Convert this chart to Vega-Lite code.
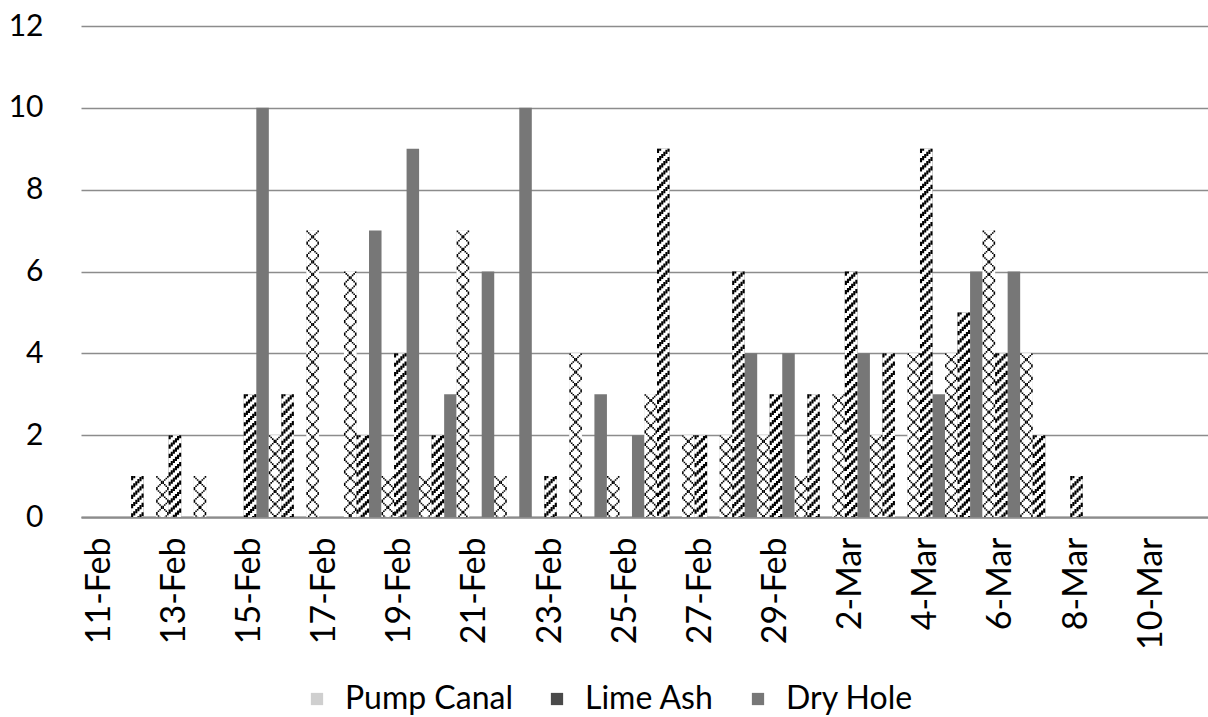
{
  "$schema": "https://vega.github.io/schema/vega-lite/v6.json",
  "width": 1127,
  "height": 491,
  "autosize": {"type": "none"},
  "padding": {"left": 81, "top": 26, "right": 0, "bottom": 200},
  "background": "white",
  "config": {
    "view": {"stroke": null},
    "font": "Lato",
    "axis": {"labelColor": "black", "labelFont": "Lato"},
    "legend": {"labelColor": "black", "labelFont": "Lato"}
  },
  "data": {
    "values": [
      {"date": "11-Feb", "series": "Pump Canal", "value": 0}, {"date": "11-Feb", "series": "Lime Ash", "value": 0}, {"date": "11-Feb", "series": "Dry Hole", "value": 0},
      {"date": "12-Feb", "series": "Pump Canal", "value": 0}, {"date": "12-Feb", "series": "Lime Ash", "value": 1}, {"date": "12-Feb", "series": "Dry Hole", "value": 0},
      {"date": "13-Feb", "series": "Pump Canal", "value": 1}, {"date": "13-Feb", "series": "Lime Ash", "value": 2}, {"date": "13-Feb", "series": "Dry Hole", "value": 0},
      {"date": "14-Feb", "series": "Pump Canal", "value": 1}, {"date": "14-Feb", "series": "Lime Ash", "value": 0}, {"date": "14-Feb", "series": "Dry Hole", "value": 0},
      {"date": "15-Feb", "series": "Pump Canal", "value": 0}, {"date": "15-Feb", "series": "Lime Ash", "value": 3}, {"date": "15-Feb", "series": "Dry Hole", "value": 10},
      {"date": "16-Feb", "series": "Pump Canal", "value": 2}, {"date": "16-Feb", "series": "Lime Ash", "value": 3}, {"date": "16-Feb", "series": "Dry Hole", "value": 0},
      {"date": "17-Feb", "series": "Pump Canal", "value": 7}, {"date": "17-Feb", "series": "Lime Ash", "value": 0}, {"date": "17-Feb", "series": "Dry Hole", "value": 0},
      {"date": "18-Feb", "series": "Pump Canal", "value": 6}, {"date": "18-Feb", "series": "Lime Ash", "value": 2}, {"date": "18-Feb", "series": "Dry Hole", "value": 7},
      {"date": "19-Feb", "series": "Pump Canal", "value": 1}, {"date": "19-Feb", "series": "Lime Ash", "value": 4}, {"date": "19-Feb", "series": "Dry Hole", "value": 9},
      {"date": "20-Feb", "series": "Pump Canal", "value": 1}, {"date": "20-Feb", "series": "Lime Ash", "value": 2}, {"date": "20-Feb", "series": "Dry Hole", "value": 3},
      {"date": "21-Feb", "series": "Pump Canal", "value": 7}, {"date": "21-Feb", "series": "Lime Ash", "value": 0}, {"date": "21-Feb", "series": "Dry Hole", "value": 6},
      {"date": "22-Feb", "series": "Pump Canal", "value": 1}, {"date": "22-Feb", "series": "Lime Ash", "value": 0}, {"date": "22-Feb", "series": "Dry Hole", "value": 10},
      {"date": "23-Feb", "series": "Pump Canal", "value": 0}, {"date": "23-Feb", "series": "Lime Ash", "value": 1}, {"date": "23-Feb", "series": "Dry Hole", "value": 0},
      {"date": "24-Feb", "series": "Pump Canal", "value": 4}, {"date": "24-Feb", "series": "Lime Ash", "value": 0}, {"date": "24-Feb", "series": "Dry Hole", "value": 3},
      {"date": "25-Feb", "series": "Pump Canal", "value": 1}, {"date": "25-Feb", "series": "Lime Ash", "value": 0}, {"date": "25-Feb", "series": "Dry Hole", "value": 2},
      {"date": "26-Feb", "series": "Pump Canal", "value": 3}, {"date": "26-Feb", "series": "Lime Ash", "value": 9}, {"date": "26-Feb", "series": "Dry Hole", "value": 0},
      {"date": "27-Feb", "series": "Pump Canal", "value": 2}, {"date": "27-Feb", "series": "Lime Ash", "value": 2}, {"date": "27-Feb", "series": "Dry Hole", "value": 0},
      {"date": "28-Feb", "series": "Pump Canal", "value": 2}, {"date": "28-Feb", "series": "Lime Ash", "value": 6}, {"date": "28-Feb", "series": "Dry Hole", "value": 4},
      {"date": "29-Feb", "series": "Pump Canal", "value": 2}, {"date": "29-Feb", "series": "Lime Ash", "value": 3}, {"date": "29-Feb", "series": "Dry Hole", "value": 4},
      {"date": "1-Mar", "series": "Pump Canal", "value": 1}, {"date": "1-Mar", "series": "Lime Ash", "value": 3}, {"date": "1-Mar", "series": "Dry Hole", "value": 0},
      {"date": "2-Mar", "series": "Pump Canal", "value": 3}, {"date": "2-Mar", "series": "Lime Ash", "value": 6}, {"date": "2-Mar", "series": "Dry Hole", "value": 4},
      {"date": "3-Mar", "series": "Pump Canal", "value": 2}, {"date": "3-Mar", "series": "Lime Ash", "value": 4}, {"date": "3-Mar", "series": "Dry Hole", "value": 0},
      {"date": "4-Mar", "series": "Pump Canal", "value": 4}, {"date": "4-Mar", "series": "Lime Ash", "value": 9}, {"date": "4-Mar", "series": "Dry Hole", "value": 3},
      {"date": "5-Mar", "series": "Pump Canal", "value": 4}, {"date": "5-Mar", "series": "Lime Ash", "value": 5}, {"date": "5-Mar", "series": "Dry Hole", "value": 6},
      {"date": "6-Mar", "series": "Pump Canal", "value": 7}, {"date": "6-Mar", "series": "Lime Ash", "value": 4}, {"date": "6-Mar", "series": "Dry Hole", "value": 6},
      {"date": "7-Mar", "series": "Pump Canal", "value": 4}, {"date": "7-Mar", "series": "Lime Ash", "value": 2}, {"date": "7-Mar", "series": "Dry Hole", "value": 0},
      {"date": "8-Mar", "series": "Pump Canal", "value": 0}, {"date": "8-Mar", "series": "Lime Ash", "value": 1}, {"date": "8-Mar", "series": "Dry Hole", "value": 0},
      {"date": "9-Mar", "series": "Pump Canal", "value": 0}, {"date": "9-Mar", "series": "Lime Ash", "value": 0}, {"date": "9-Mar", "series": "Dry Hole", "value": 0},
      {"date": "10-Mar", "series": "Pump Canal", "value": 0}, {"date": "10-Mar", "series": "Lime Ash", "value": 0}, {"date": "10-Mar", "series": "Dry Hole", "value": 0},
      {"date": "11-Mar", "series": "Pump Canal", "value": 0}, {"date": "11-Mar", "series": "Lime Ash", "value": 0}, {"date": "11-Mar", "series": "Dry Hole", "value": 0}
    ]
  },
  "encoding": {
    "y": {
      "field": "value",
      "type": "quantitative",
      "stack": null,
      "scale": {"domain": [0, 12], "nice": false},
      "axis": {
        "title": null,
        "values": [0, 2, 4, 6, 8, 10, 12],
        "grid": true,
        "gridColor": "#8c8c8c",
        "gridWidth": 1.3,
        "domain": false,
        "ticks": false,
        "labelFontSize": 30,
        "labelPadding": 38
      }
    }
  },
  "layer": [
    {
      "mark": {"type": "bar"},
      "encoding": {
        "x": {
          "field": "date",
          "type": "nominal",
          "scale": {
            "domain": ["11-Feb", "12-Feb", "13-Feb", "14-Feb", "15-Feb", "16-Feb", "17-Feb", "18-Feb", "19-Feb", "20-Feb", "21-Feb", "22-Feb", "23-Feb", "24-Feb", "25-Feb", "26-Feb", "27-Feb", "28-Feb", "29-Feb", "1-Mar", "2-Mar", "3-Mar", "4-Mar", "5-Mar", "6-Mar", "7-Mar", "8-Mar", "9-Mar", "10-Mar", "11-Mar"],
            "paddingInner": 0,
            "paddingOuter": 0
          },
          "axis": {
            "title": null,
            "values": ["11-Feb", "13-Feb", "15-Feb", "17-Feb", "19-Feb", "21-Feb", "23-Feb", "25-Feb", "27-Feb", "29-Feb", "2-Mar", "4-Mar", "6-Mar", "8-Mar", "10-Mar"],
            "labelAngle": -90,
            "labelFontSize": 34,
            "labelPadding": 20,
            "ticks": false,
            "grid": false,
            "domainColor": "#8c8c8c",
            "domainWidth": 2.25
          }
        },
        "xOffset": {
          "field": "series",
          "type": "nominal",
          "scale": {"domain": ["Pump Canal", "Lime Ash", "Dry Hole"], "paddingInner": 0, "paddingOuter": 0}
        },
        "color": {
          "field": "series",
          "type": "nominal",
          "scale": {"domain": ["Pump Canal", "Lime Ash", "Dry Hole"], "range": ["#cfcfcf", "#4a4a4a", "#777777"]},
          "legend": {
            "title": null,
            "orient": "none",
            "legendX": 220,
            "legendY": 657,
            "direction": "horizontal",
            "labelFontSize": 32,
            "labelLimit": 400,
            "symbolType": "square",
            "symbolSize": 150,
            "symbolStrokeWidth": 0,
            "labelOffset": 12,
            "columnPadding": 28
          }
        }
      }
    },
    {
      "transform": [{"filter": "datum.series !== 'Dry Hole'"}],
      "mark": {"type": "bar", "fill": "white"},
      "encoding": {
        "x": {"field": "date", "type": "nominal", "scale": {"domain": ["11-Feb", "12-Feb", "13-Feb", "14-Feb", "15-Feb", "16-Feb", "17-Feb", "18-Feb", "19-Feb", "20-Feb", "21-Feb", "22-Feb", "23-Feb", "24-Feb", "25-Feb", "26-Feb", "27-Feb", "28-Feb", "29-Feb", "1-Mar", "2-Mar", "3-Mar", "4-Mar", "5-Mar", "6-Mar", "7-Mar", "8-Mar", "9-Mar", "10-Mar", "11-Mar"], "paddingInner": 0, "paddingOuter": 0}},
        "xOffset": {"field": "series", "type": "nominal", "scale": {"domain": ["Pump Canal", "Lime Ash", "Dry Hole"], "paddingInner": 0, "paddingOuter": 0}}
      }
    },
    {
      "transform": [{"filter": "datum.series === 'Lime Ash' && datum.value > 0"}],
      "mark": {"type": "rule", "color": "black", "strokeWidth": 2.087, "strokeDash": [4.2, 5.1], "strokeDashOffset": 0},
      "encoding": {
        "x": {"field": "date", "type": "nominal", "bandPosition": 0.361111, "scale": {"domain": ["11-Feb", "12-Feb", "13-Feb", "14-Feb", "15-Feb", "16-Feb", "17-Feb", "18-Feb", "19-Feb", "20-Feb", "21-Feb", "22-Feb", "23-Feb", "24-Feb", "25-Feb", "26-Feb", "27-Feb", "28-Feb", "29-Feb", "1-Mar", "2-Mar", "3-Mar", "4-Mar", "5-Mar", "6-Mar", "7-Mar", "8-Mar", "9-Mar", "10-Mar", "11-Mar"], "paddingInner": 0, "paddingOuter": 0}},
        "y2": {"datum": 0}
      }
    },
    {
      "transform": [{"filter": "datum.series === 'Lime Ash' && datum.value > 0"}],
      "mark": {"type": "rule", "color": "black", "strokeWidth": 2.087, "strokeDash": [4.2, 5.1], "strokeDashOffset": 2.087},
      "encoding": {
        "x": {"field": "date", "type": "nominal", "bandPosition": 0.416667, "scale": {"domain": ["11-Feb", "12-Feb", "13-Feb", "14-Feb", "15-Feb", "16-Feb", "17-Feb", "18-Feb", "19-Feb", "20-Feb", "21-Feb", "22-Feb", "23-Feb", "24-Feb", "25-Feb", "26-Feb", "27-Feb", "28-Feb", "29-Feb", "1-Mar", "2-Mar", "3-Mar", "4-Mar", "5-Mar", "6-Mar", "7-Mar", "8-Mar", "9-Mar", "10-Mar", "11-Mar"], "paddingInner": 0, "paddingOuter": 0}},
        "y2": {"datum": 0}
      }
    },
    {
      "transform": [{"filter": "datum.series === 'Lime Ash' && datum.value > 0"}],
      "mark": {"type": "rule", "color": "black", "strokeWidth": 2.087, "strokeDash": [4.2, 5.1], "strokeDashOffset": 4.174},
      "encoding": {
        "x": {"field": "date", "type": "nominal", "bandPosition": 0.472222, "scale": {"domain": ["11-Feb", "12-Feb", "13-Feb", "14-Feb", "15-Feb", "16-Feb", "17-Feb", "18-Feb", "19-Feb", "20-Feb", "21-Feb", "22-Feb", "23-Feb", "24-Feb", "25-Feb", "26-Feb", "27-Feb", "28-Feb", "29-Feb", "1-Mar", "2-Mar", "3-Mar", "4-Mar", "5-Mar", "6-Mar", "7-Mar", "8-Mar", "9-Mar", "10-Mar", "11-Mar"], "paddingInner": 0, "paddingOuter": 0}},
        "y2": {"datum": 0}
      }
    },
    {
      "transform": [{"filter": "datum.series === 'Lime Ash' && datum.value > 0"}],
      "mark": {"type": "rule", "color": "black", "strokeWidth": 2.087, "strokeDash": [4.2, 5.1], "strokeDashOffset": 6.261},
      "encoding": {
        "x": {"field": "date", "type": "nominal", "bandPosition": 0.527778, "scale": {"domain": ["11-Feb", "12-Feb", "13-Feb", "14-Feb", "15-Feb", "16-Feb", "17-Feb", "18-Feb", "19-Feb", "20-Feb", "21-Feb", "22-Feb", "23-Feb", "24-Feb", "25-Feb", "26-Feb", "27-Feb", "28-Feb", "29-Feb", "1-Mar", "2-Mar", "3-Mar", "4-Mar", "5-Mar", "6-Mar", "7-Mar", "8-Mar", "9-Mar", "10-Mar", "11-Mar"], "paddingInner": 0, "paddingOuter": 0}},
        "y2": {"datum": 0}
      }
    },
    {
      "transform": [{"filter": "datum.series === 'Lime Ash' && datum.value > 0"}],
      "mark": {"type": "rule", "color": "black", "strokeWidth": 2.087, "strokeDash": [4.2, 5.1], "strokeDashOffset": 8.348},
      "encoding": {
        "x": {"field": "date", "type": "nominal", "bandPosition": 0.583333, "scale": {"domain": ["11-Feb", "12-Feb", "13-Feb", "14-Feb", "15-Feb", "16-Feb", "17-Feb", "18-Feb", "19-Feb", "20-Feb", "21-Feb", "22-Feb", "23-Feb", "24-Feb", "25-Feb", "26-Feb", "27-Feb", "28-Feb", "29-Feb", "1-Mar", "2-Mar", "3-Mar", "4-Mar", "5-Mar", "6-Mar", "7-Mar", "8-Mar", "9-Mar", "10-Mar", "11-Mar"], "paddingInner": 0, "paddingOuter": 0}},
        "y2": {"datum": 0}
      }
    },
    {
      "transform": [{"filter": "datum.series === 'Lime Ash' && datum.value > 0"}],
      "mark": {"type": "rule", "color": "black", "strokeWidth": 2.087, "strokeDash": [4.2, 5.1], "strokeDashOffset": 1.135},
      "encoding": {
        "x": {"field": "date", "type": "nominal", "bandPosition": 0.638889, "scale": {"domain": ["11-Feb", "12-Feb", "13-Feb", "14-Feb", "15-Feb", "16-Feb", "17-Feb", "18-Feb", "19-Feb", "20-Feb", "21-Feb", "22-Feb", "23-Feb", "24-Feb", "25-Feb", "26-Feb", "27-Feb", "28-Feb", "29-Feb", "1-Mar", "2-Mar", "3-Mar", "4-Mar", "5-Mar", "6-Mar", "7-Mar", "8-Mar", "9-Mar", "10-Mar", "11-Mar"], "paddingInner": 0, "paddingOuter": 0}},
        "y2": {"datum": 0}
      }
    },
    {
      "transform": [{"filter": "datum.series === 'Pump Canal' && datum.value > 0"}],
      "mark": {"type": "rule", "color": "black", "strokeWidth": 1.565, "strokeDash": [3.165, 9.355], "strokeDashOffset": 1.582},
      "encoding": {
        "x": {"field": "date", "type": "nominal", "bandPosition": 0.020833, "scale": {"domain": ["11-Feb", "12-Feb", "13-Feb", "14-Feb", "15-Feb", "16-Feb", "17-Feb", "18-Feb", "19-Feb", "20-Feb", "21-Feb", "22-Feb", "23-Feb", "24-Feb", "25-Feb", "26-Feb", "27-Feb", "28-Feb", "29-Feb", "1-Mar", "2-Mar", "3-Mar", "4-Mar", "5-Mar", "6-Mar", "7-Mar", "8-Mar", "9-Mar", "10-Mar", "11-Mar"], "paddingInner": 0, "paddingOuter": 0}},
        "y2": {"datum": 0}
      }
    },
    {
      "transform": [{"filter": "datum.series === 'Pump Canal' && datum.value > 0"}],
      "mark": {"type": "rule", "color": "black", "strokeWidth": 1.565, "strokeDash": [1.6, 6.225, 1.6, 3.095], "strokeDashOffset": 10.972},
      "encoding": {
        "x": {"field": "date", "type": "nominal", "bandPosition": 0.0625, "scale": {"domain": ["11-Feb", "12-Feb", "13-Feb", "14-Feb", "15-Feb", "16-Feb", "17-Feb", "18-Feb", "19-Feb", "20-Feb", "21-Feb", "22-Feb", "23-Feb", "24-Feb", "25-Feb", "26-Feb", "27-Feb", "28-Feb", "29-Feb", "1-Mar", "2-Mar", "3-Mar", "4-Mar", "5-Mar", "6-Mar", "7-Mar", "8-Mar", "9-Mar", "10-Mar", "11-Mar"], "paddingInner": 0, "paddingOuter": 0}},
        "y2": {"datum": 0}
      }
    },
    {
      "transform": [{"filter": "datum.series === 'Pump Canal' && datum.value > 0"}],
      "mark": {"type": "rule", "color": "black", "strokeWidth": 1.565, "strokeDash": [1.6, 3.095, 1.6, 6.225], "strokeDashOffset": 9.407},
      "encoding": {
        "x": {"field": "date", "type": "nominal", "bandPosition": 0.104167, "scale": {"domain": ["11-Feb", "12-Feb", "13-Feb", "14-Feb", "15-Feb", "16-Feb", "17-Feb", "18-Feb", "19-Feb", "20-Feb", "21-Feb", "22-Feb", "23-Feb", "24-Feb", "25-Feb", "26-Feb", "27-Feb", "28-Feb", "29-Feb", "1-Mar", "2-Mar", "3-Mar", "4-Mar", "5-Mar", "6-Mar", "7-Mar", "8-Mar", "9-Mar", "10-Mar", "11-Mar"], "paddingInner": 0, "paddingOuter": 0}},
        "y2": {"datum": 0}
      }
    },
    {
      "transform": [{"filter": "datum.series === 'Pump Canal' && datum.value > 0"}],
      "mark": {"type": "rule", "color": "black", "strokeWidth": 1.565, "strokeDash": [3.165, 9.355], "strokeDashOffset": 7.842},
      "encoding": {
        "x": {"field": "date", "type": "nominal", "bandPosition": 0.145833, "scale": {"domain": ["11-Feb", "12-Feb", "13-Feb", "14-Feb", "15-Feb", "16-Feb", "17-Feb", "18-Feb", "19-Feb", "20-Feb", "21-Feb", "22-Feb", "23-Feb", "24-Feb", "25-Feb", "26-Feb", "27-Feb", "28-Feb", "29-Feb", "1-Mar", "2-Mar", "3-Mar", "4-Mar", "5-Mar", "6-Mar", "7-Mar", "8-Mar", "9-Mar", "10-Mar", "11-Mar"], "paddingInner": 0, "paddingOuter": 0}},
        "y2": {"datum": 0}
      }
    },
    {
      "transform": [{"filter": "datum.series === 'Pump Canal' && datum.value > 0"}],
      "mark": {"type": "rule", "color": "black", "strokeWidth": 1.565, "strokeDash": [3.165, 9.355], "strokeDashOffset": 7.842},
      "encoding": {
        "x": {"field": "date", "type": "nominal", "bandPosition": 0.1875, "scale": {"domain": ["11-Feb", "12-Feb", "13-Feb", "14-Feb", "15-Feb", "16-Feb", "17-Feb", "18-Feb", "19-Feb", "20-Feb", "21-Feb", "22-Feb", "23-Feb", "24-Feb", "25-Feb", "26-Feb", "27-Feb", "28-Feb", "29-Feb", "1-Mar", "2-Mar", "3-Mar", "4-Mar", "5-Mar", "6-Mar", "7-Mar", "8-Mar", "9-Mar", "10-Mar", "11-Mar"], "paddingInner": 0, "paddingOuter": 0}},
        "y2": {"datum": 0}
      }
    },
    {
      "transform": [{"filter": "datum.series === 'Pump Canal' && datum.value > 0"}],
      "mark": {"type": "rule", "color": "black", "strokeWidth": 1.565, "strokeDash": [1.6, 3.095, 1.6, 6.225], "strokeDashOffset": 9.407},
      "encoding": {
        "x": {"field": "date", "type": "nominal", "bandPosition": 0.229167, "scale": {"domain": ["11-Feb", "12-Feb", "13-Feb", "14-Feb", "15-Feb", "16-Feb", "17-Feb", "18-Feb", "19-Feb", "20-Feb", "21-Feb", "22-Feb", "23-Feb", "24-Feb", "25-Feb", "26-Feb", "27-Feb", "28-Feb", "29-Feb", "1-Mar", "2-Mar", "3-Mar", "4-Mar", "5-Mar", "6-Mar", "7-Mar", "8-Mar", "9-Mar", "10-Mar", "11-Mar"], "paddingInner": 0, "paddingOuter": 0}},
        "y2": {"datum": 0}
      }
    },
    {
      "transform": [{"filter": "datum.series === 'Pump Canal' && datum.value > 0"}],
      "mark": {"type": "rule", "color": "black", "strokeWidth": 1.565, "strokeDash": [1.6, 6.225, 1.6, 3.095], "strokeDashOffset": 10.972},
      "encoding": {
        "x": {"field": "date", "type": "nominal", "bandPosition": 0.270833, "scale": {"domain": ["11-Feb", "12-Feb", "13-Feb", "14-Feb", "15-Feb", "16-Feb", "17-Feb", "18-Feb", "19-Feb", "20-Feb", "21-Feb", "22-Feb", "23-Feb", "24-Feb", "25-Feb", "26-Feb", "27-Feb", "28-Feb", "29-Feb", "1-Mar", "2-Mar", "3-Mar", "4-Mar", "5-Mar", "6-Mar", "7-Mar", "8-Mar", "9-Mar", "10-Mar", "11-Mar"], "paddingInner": 0, "paddingOuter": 0}},
        "y2": {"datum": 0}
      }
    },
    {
      "transform": [{"filter": "datum.series === 'Pump Canal' && datum.value > 0"}],
      "mark": {"type": "rule", "color": "black", "strokeWidth": 1.565, "strokeDash": [3.165, 9.355], "strokeDashOffset": 1.582},
      "encoding": {
        "x": {"field": "date", "type": "nominal", "bandPosition": 0.3125, "scale": {"domain": ["11-Feb", "12-Feb", "13-Feb", "14-Feb", "15-Feb", "16-Feb", "17-Feb", "18-Feb", "19-Feb", "20-Feb", "21-Feb", "22-Feb", "23-Feb", "24-Feb", "25-Feb", "26-Feb", "27-Feb", "28-Feb", "29-Feb", "1-Mar", "2-Mar", "3-Mar", "4-Mar", "5-Mar", "6-Mar", "7-Mar", "8-Mar", "9-Mar", "10-Mar", "11-Mar"], "paddingInner": 0, "paddingOuter": 0}},
        "y2": {"datum": 0}
      }
    }
  ]
}
